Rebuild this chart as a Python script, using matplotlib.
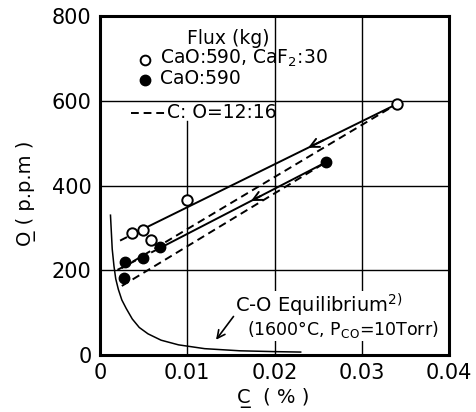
import numpy as np
import matplotlib
matplotlib.use('Agg')
import matplotlib.pyplot as plt

# measured points, C (%) vs O (ppm)
open_c = [0.0037, 0.0049, 0.0059, 0.0100, 0.0340]
open_o = [288, 296, 272, 366, 592]
filled_c = [0.0028, 0.0029, 0.0049, 0.0069, 0.0259]
filled_o = [181, 219, 228, 255, 455]

# drawn lines (open-circle fit, open C:O line, filled fit, filled C:O line)
fit_open_c = [0.0023, 0.0050, 0.0340]
fit_open_o = [270, 298, 592]
co_open_c = [0.0025, 0.0340]
co_open_o = [205, 592]
fit_filled_c = [0.0020, 0.0072, 0.0259]
fit_filled_o = [201, 256, 455]
co_filled_c = [0.0025, 0.0259]
co_filled_o = [163, 455]

# C-O equilibrium curve (1600C, Pco = 10 Torr)
eq_c = [0.0012, 0.0013, 0.0014, 0.0016, 0.0018, 0.0021, 0.0025, 0.0030, 0.0037,
        0.0045, 0.0055, 0.0070, 0.0090, 0.0120, 0.0160, 0.0200, 0.0230]
eq_o = [330, 290, 250, 210, 180, 155, 130, 110, 85, 65, 50, 35, 24, 15, 10, 8, 7]

x_ticks = [0, 0.01, 0.02, 0.03, 0.04]
x_labels = ['0', '0.01', '0.02', '0.03', '0.04']
y_ticks = [0, 200, 400, 600, 800]

plt.rcParams['font.family'] = ['DejaVu Sans']
fig = plt.figure(figsize=(4.76, 4.12), dpi=100)
ax = fig.add_axes([0.2101, 0.1383, 0.7332, 0.8228])
ax.set_xlim(0, 0.04)
ax.set_ylim(0, 800)

# grid drawn by hand (legend box hides the top of the 0.01 line)
for y in y_ticks[1:-1]:
    ax.axhline(y, color='k', lw=1.0, zorder=1)
ax.axvline(0.02, color='k', lw=1.0, zorder=1)
ax.axvline(0.03, color='k', lw=1.0, zorder=1)
ax.plot([0.01, 0.01], [0, 552], color='k', lw=1.0, zorder=1)

dash = (0, (4, 2.5))
ax.plot(fit_open_c[:2], fit_open_o[:2], color='k', lw=1.4, ls=dash, zorder=2)
ax.plot(fit_open_c[1:], fit_open_o[1:], color='k', lw=1.4, zorder=2)
ax.plot(co_open_c, co_open_o, color='k', lw=1.4, ls=dash, zorder=2)
ax.plot(fit_filled_c[:2], fit_filled_o[:2], color='k', lw=1.4, ls=dash, zorder=2)
ax.plot(fit_filled_c[1:], fit_filled_o[1:], color='k', lw=1.4, zorder=2)
ax.plot(co_filled_c, co_filled_o, color='k', lw=1.4, ls=dash, zorder=2)
ax.plot(eq_c, eq_o, color='k', lw=1.1, zorder=2)

# direction arrows on the two solid lines
def arrow_on(cs, os, f, df=0.06):
    x0 = cs[-2] + (cs[-1] - cs[-2]) * (f + df)
    y0 = os[-2] + (os[-1] - os[-2]) * (f + df)
    x1 = cs[-2] + (cs[-1] - cs[-2]) * f
    y1 = os[-2] + (os[-1] - os[-2]) * f
    ax.annotate('', xy=(x1, y1), xytext=(x0, y0),
                arrowprops=dict(arrowstyle='->', color='k', lw=1.4,
                                mutation_scale=16, shrinkA=0, shrinkB=0))

arrow_on(fit_open_c, fit_open_o, 0.65)
arrow_on(fit_filled_c, fit_filled_o, 0.54)

ax.plot(open_c, open_o, 'o', mfc='white', mec='k', mew=1.4, ms=7.5, zorder=4)
ax.plot(filled_c, filled_o, 'o', mfc='k', mec='k', ms=7.5, zorder=4)

# hand-made legend
fs = 13.5
ax.text(0.367, 0.935, 'Flux (kg)', transform=ax.transAxes, ha='center', va='center', fontsize=fs)
ax.plot([0.129], [0.870], 'o', transform=ax.transAxes, mfc='white', mec='k', mew=1.4, ms=7)
ax.text(0.172, 0.876, 'CaO:590, CaF$_2$:30', transform=ax.transAxes, ha='left', va='center', fontsize=fs)
ax.plot([0.129], [0.811], 'o', transform=ax.transAxes, mfc='k', mec='k', ms=7.5)
ax.text(0.172, 0.817, 'CaO:590', transform=ax.transAxes, ha='left', va='center', fontsize=fs)
ax.plot([0.089, 0.186], [0.714, 0.714], transform=ax.transAxes, color='k', lw=1.4, ls=(0, (4, 2.5)))
ax.text(0.192, 0.714, 'C: O=12:16', transform=ax.transAxes, ha='left', va='center', fontsize=fs)

# equilibrium label
ax.text(0.387, 0.147, 'C-O Equilibrium$^{2)}$', transform=ax.transAxes, ha='left', va='center',
        fontsize=14, bbox=dict(fc='white', ec='none', pad=0.5), zorder=3)
ax.text(0.421, 0.074, '(1600°C, P$_{\\rm CO}$=10Torr)', transform=ax.transAxes, ha='left',
        va='center', fontsize=12.5, bbox=dict(fc='white', ec='none', pad=0.5), zorder=3)
ax.annotate('', xy=(0.0133, 36), xytext=(0.0153, 91),
            arrowprops=dict(arrowstyle='->', color='k', lw=1.2, mutation_scale=14,
                            shrinkA=0, shrinkB=0))

ax.set_xticks(x_ticks)
ax.set_xticklabels(x_labels)
ax.set_yticks(y_ticks)
ax.tick_params(length=0, pad=6, labelsize=15)
for s in ax.spines.values():
    s.set_linewidth(2.2)

ax.text(-0.212, 0.478, 'O\u0332 ( p.p.m )', transform=ax.transAxes, rotation=90,
        ha='center', va='center', fontsize=14)
ax.text(0.496, -0.127, 'C\u0332  ( % )', transform=ax.transAxes,
        ha='center', va='center', fontsize=14)

fig.savefig('out.png', dpi=100)
